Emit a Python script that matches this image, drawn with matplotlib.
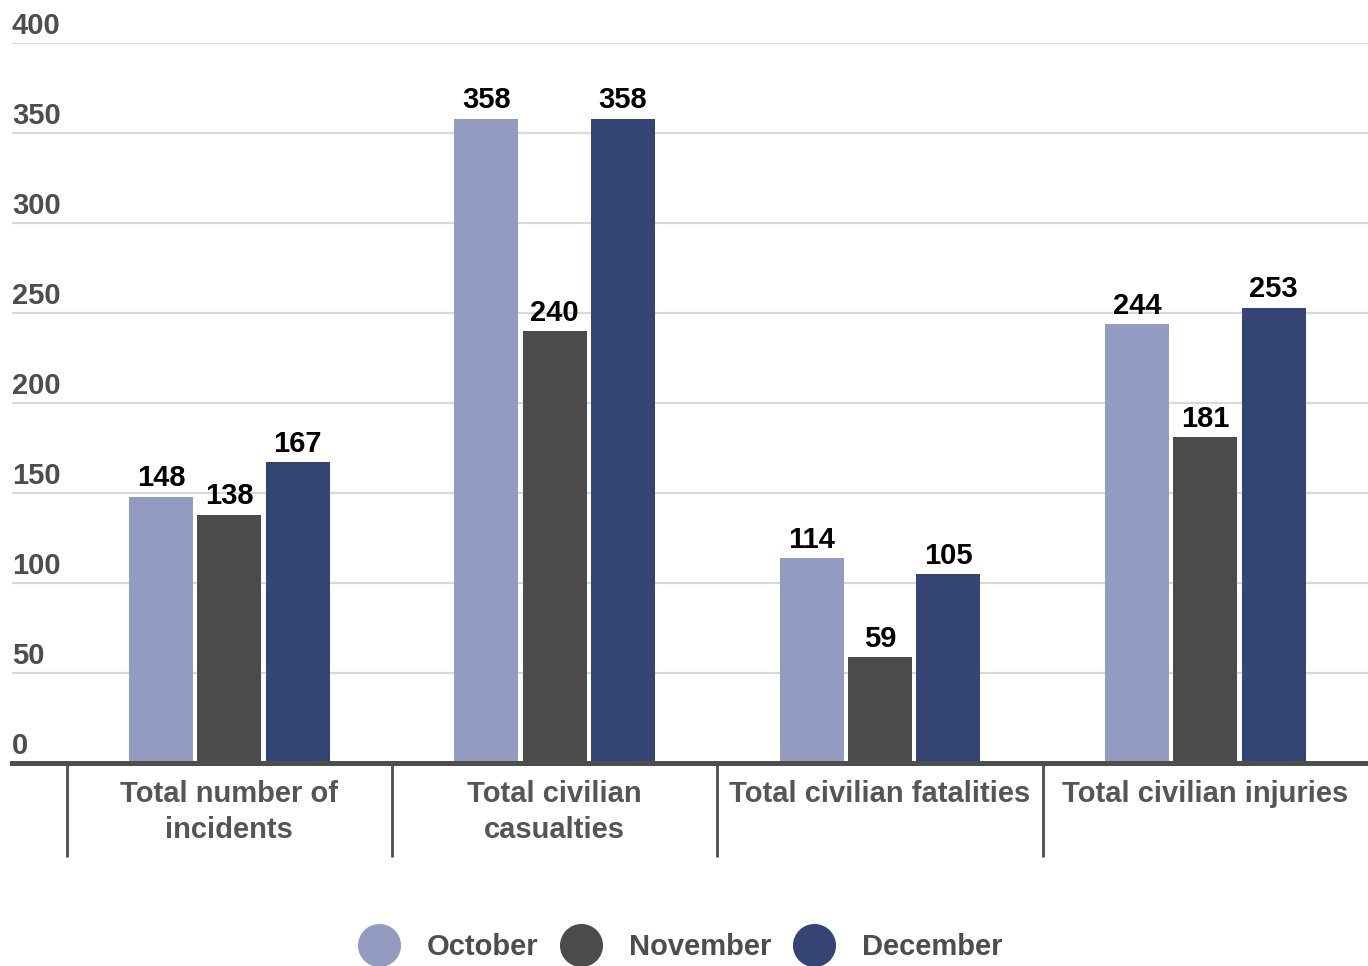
import matplotlib.pyplot as plt
import numpy as np

plt.rcParams['font.family'] = ['Liberation Sans', 'DejaVu Sans']

categories = ['Total number of\nincidents', 'Total civilian\ncasualties',
              'Total civilian fatalities', 'Total civilian injuries']
months = ['October', 'November', 'December']
october = [148, 358, 114, 244]
november = [138, 240, 59, 181]
december = [167, 358, 105, 253]
colors = ['#939bc1', '#4b4b4b', '#344474']
yticks = [0, 50, 100, 150, 200, 250, 300, 350, 400]

fig = plt.figure(figsize=(13.68, 9.66), dpi=100)
ax = fig.add_axes([12 / 1368, 203 / 966, 1356 / 1368, 720 / 966])

x = np.arange(len(categories))
w = 0.197
step = 0.21
for i, (vals, c, m) in enumerate(zip([october, november, december], colors, months)):
    bars = ax.bar(x + (i - 1) * step, vals, width=w, color=c, label=m, zorder=3)
    ax.bar_label(bars, padding=3, fontsize=21, fontweight='bold', color='black')

ax.set_xlim(-0.668, 3.5)
ax.set_ylim(0, 400)

# grid + y labels sitting above the lines
for t in yticks:
    if t > 0:
        ax.axhline(t, color='#d9d9d9', lw=1.6, zorder=1)
    ax.annotate(str(t), xy=(0, t), xycoords=('axes fraction', 'data'),
                xytext=(0, 2.5), textcoords='offset points',
                ha='left', va='bottom', fontsize=21, fontweight='bold', color='#4d4d4d')
ax.set_yticks([])

for s in ['top', 'right', 'left']:
    ax.spines[s].set_visible(False)
ax.spines['bottom'].set_linewidth(3.6)
ax.spines['bottom'].set_color('#4d4d4d')
ax.spines['bottom'].set_zorder(4)

ax.set_xticks(x)
ax.set_xticklabels(categories, fontsize=21, fontweight='bold', color='#555555', linespacing=1.36)
ax.tick_params(axis='x', which='major', length=0, pad=12)
ax.set_xticks([-0.5, 0.5, 1.5, 2.5], minor=True)
ax.tick_params(axis='x', which='minor', length=68, width=2, color='#4d4d4d', direction='out')

handles = [plt.Line2D([], [], marker='o', ls='', markersize=30, color=c) for c in colors]
fig.legend(handles, months, loc='center', bbox_to_anchor=(0.497, 19 / 966), ncol=3,
           frameon=False, prop={'size': 21, 'weight': 'bold'}, handlelength=1.5,
           handletextpad=0.9, columnspacing=0.7, labelcolor='#4d4d4d')

fig.savefig('out.png', dpi=100)
